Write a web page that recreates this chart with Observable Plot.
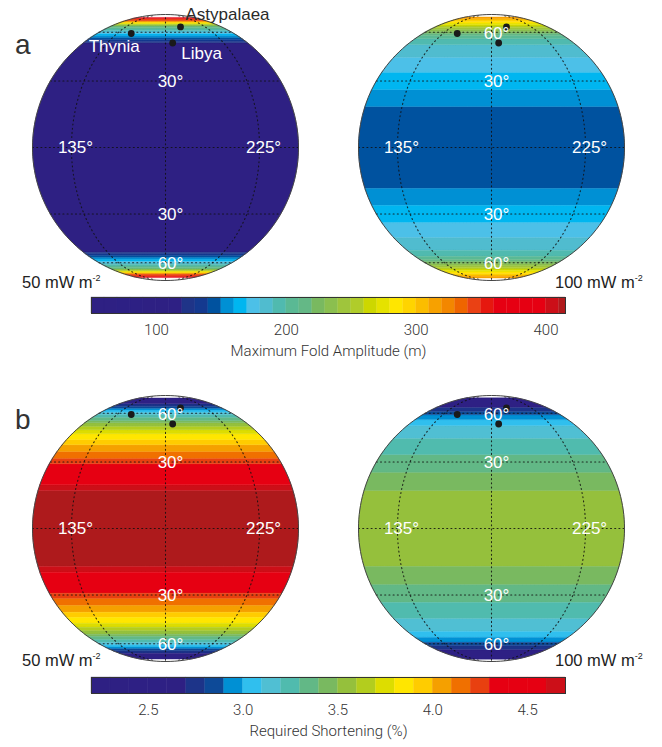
<!DOCTYPE html>
<html>
<head>
<meta charset="utf-8">
<script src="https://cdn.jsdelivr.net/npm/d3@7"></script>
<script src="https://cdn.jsdelivr.net/npm/@observablehq/plot@0.6"></script>
<style>
html,body{margin:0;padding:0;background:#fff;}
#page{position:relative;width:662px;height:747px;overflow:hidden;font-family:"Liberation Sans",sans-serif;}
#page>*{position:absolute;}
.tag{font-size:28px;color:#333;line-height:1;}
.flux{font-size:16.5px;color:#222;line-height:1;white-space:nowrap;}
.flux sup{font-size:9px;line-height:0;position:relative;top:-1px;vertical-align:super;}
</style>
</head>
<body>
<div id="page"></div>
<script>
// Stepped colour ramps of the two colour bars
const ampEdges = [60,70,80,90,100,110,120,130,140,150,160,170,180,190,200,210,220,230,240,250,260,270,280,290,300,310,320,330,340,350,360,370,380,390,400,410];
const ampColors = ["#2e2083","#2e2083","#2d2084","#2d2084","#2e2083","#2e2083","#2e2084","#1f3488","#14398f","#00529f","#0090d4","#00b6f0","#4cc0e8","#50bccf","#50baaf","#5ab994","#64b886","#79b960","#8bbf4f","#9fc53c","#b0cc2a","#cdd700","#e5e200","#ffe600","#ffd400","#fbbd00","#f7a100","#f38700","#ef6500","#ea4114","#e6180f","#e60012","#e60012","#e60012","#e60012","#cc0f18","#b01a1c"];
const shortEdges = [2.3,2.4,2.5,2.6,2.7,2.8,2.9,3.0,3.1,3.2,3.3,3.4,3.5,3.6,3.7,3.8,3.9,4.0,4.1,4.2,4.3,4.4,4.5,4.6,4.7];
const shortColors = ["#2e2083","#2e2083","#2e2084","#2e2084","#2e2083","#1d3489","#0d4a98","#0090d4","#30bfee","#50bfd3","#50bbae","#62b886","#79b960","#95c03c","#b3cd1e","#dddd00","#ffe600","#ffcc00","#f5a000","#f07000","#e84010","#e60012","#e60012","#e60012","#cc0f18","#ae1a1c"];

// Zonal bands: upper latitude of each band (mirrored in the south) and its value
const ampLats50 = [52,53,54.5,56,57.5,59,60,61.5,63,64.5,66,67.5,68.5,69.5,70.5,71.5,72.5,76,78];
const ampVals50 = [90,125,135,145,155,165,175,185,195,205,215,235,255,270,285,305,325,345,380];
const ampLats100 = [18,25.9,34.5,42.8,50.7,55,57.4,59.2,61,62.7,64.5,66,67.6,69.4,71.2,73.5,75.5,79];
const ampVals100 = [145,155,165,175,185,195,205,215,225,235,245,255,265,275,285,295,305,315];
const shortLats50 = [16.6,19.2,29.1,31.9,35.4,39,42,45.4,47.9,50.3,52.6,54.3,56.8,59,61,63.1,64.8,66.9,69.7,79];
const shortVals50 = [4.75,4.65,4.45,4.25,4.15,4.05,3.95,3.85,3.75,3.65,3.55,3.45,3.35,3.25,3.15,3.05,2.95,2.85,2.75,2.5];
const shortLats100 = [16.6,25,33.8,42.8,50.7,55,58.8,61.9,65.8,79.4];
const shortVals100 = [3.55,3.45,3.35,3.25,3.15,3.05,2.95,2.85,2.75,2.5];

// Named sites on the globe
const sites = [
  {name:"Thynia", lon:150, lat:59, dx:-17, dy:13, fill:"white"},
  {name:"Libya", lon:185, lat:51.8, dx:29, dy:11, fill:"white"},
  {name:"Astypalaea", lon:195.5, lat:65, dx:47, dy:-12, fill:"#2a2a2a"}
];
// Graticule labels
const lonLabels = [{lon:135, lat:0, text:"135°"},{lon:225, lat:0, text:"225°"}];
const parallels = [-60,-30,0,30,60];
const meridians = [135,180,225];

const range = (a,b,s) => d3.range(a,b+s/2,s);
function band(lo, hi){
  const north = range(85,275,2).map(l=>[l,hi]);
  const south = range(85,275,2).reverse().map(l=>[l,lo]);
  const ring = [...north,...south,north[0]];
  return {type:"Polygon",coordinates:[ring]};
}
function bands(lats, vals){
  const out=[{geometry:band(-lats[0],lats[0]),value:vals[0]}];
  for(let i=1;i<lats.length;i++){
    out.push({geometry:band(lats[i-1],lats[i]),value:vals[i]});
    out.push({geometry:band(-lats[i],-lats[i-1]),value:vals[i]});
  }
  return out;
}
const graticule = [
  ...parallels.map(lat=>({type:"LineString",coordinates:range(85,275,2).map(l=>[l,lat])})),
  ...meridians.map(lon=>({type:"LineString",coordinates:range(-82,82,2).map(lat=>[lon,lat])}))
];

function globe(lats, vals, edges, colors, opts={}){
  const data = bands(lats, vals);
  const latLabels = opts.latLabels;
  return Plot.plot({
    width:270,height:270,margin:0,
    style:{overflow:"visible",background:"transparent",fontFamily:"Liberation Sans, sans-serif"},
    projection:{type:"orthographic",rotate:[-180,0],domain:{type:"Sphere"},inset:2},
    color:{type:"threshold",domain:edges,range:colors},
    marks:[
      Plot.geo(data,{geometry:"geometry",fill:"value",stroke:"value",strokeWidth:0.4}),
      Plot.geo(graticule,{stroke:"#111",strokeWidth:1.1,strokeDasharray:"1 3.2",strokeOpacity:0.85}),
      Plot.sphere({stroke:"#444",strokeWidth:1}),
      Plot.dot(sites,{x:"lon",y:"lat",r:3.4,fill:"#1a1a1a",stroke:null}),
      Plot.text(lonLabels,{x:"lon",y:"lat",text:"text",dx:4,fill:"white",fontSize:17}),
      Plot.text(latLabels,{x:"lon",y:"lat",text:"text",dx:5,dy:1,fill:"white",fontSize:17}),
      opts.names ? Plot.text(sites,{x:"lon",y:"lat",text:"name",dx:"dx",dy:"dy",fill:"fill",fontSize:17}) : null
    ]
  });
}
const mkLat = arr => arr.map(lat=>({lon:180,lat,text:Math.abs(lat)+"°"}));
// dx/dy channel support: draw names individually
function siteNames(){ return sites.map(s=>Plot.text([s],{x:"lon",y:"lat",text:"name",dx:s.dx,dy:s.dy,fill:s.fill,fontSize:17})); }

function globeFull(lats, vals, edges, colors, latList, names){
  const data = bands(lats, vals);
  return Plot.plot({
    width:270,height:270,margin:0,
    style:{overflow:"visible",background:"transparent",fontFamily:"Liberation Sans, sans-serif"},
    projection:{type:"orthographic",rotate:[-180,0],domain:{type:"Sphere"},inset:2},
    color:{type:"threshold",domain:edges,range:colors},
    marks:[
      Plot.geo(data,{geometry:"geometry",fill:"value",stroke:"value",strokeWidth:0.4}),
      Plot.geo(graticule,{stroke:"#111",strokeWidth:1.1,strokeDasharray:"1 3.2",strokeOpacity:0.85}),
      Plot.sphere({stroke:"#444",strokeWidth:1}),
      Plot.dot(sites,{x:"lon",y:"lat",r:3.4,fill:"#1a1a1a"}),
      Plot.text(lonLabels,{x:"lon",y:"lat",text:"text",dx:4,fill:"white",fontSize:17}),
      Plot.text(mkLat(latList),{x:"lon",y:"lat",text:"text",dx:5,dy:1,fill:"white",fontSize:17}),
      ...(names?siteNames():[])
    ]
  });
}

function colorBar(edges, colors, domain, ticks, fmt, label){
  const bounds=[domain[0],...edges.filter(e=>e<domain[1]),domain[1]];
  const cells=bounds.slice(1).map((hi,i)=>({lo:bounds[i],hi,mid:(bounds[i]+hi)/2}));
  return Plot.plot({
    width:662,height:82,marginLeft:91,marginRight:97,marginTop:4,marginBottom:62,
    style:{overflow:"visible",background:"transparent",fontFamily:"Roboto, sans-serif"},
    x:{domain},
    color:{type:"threshold",domain:edges,range:colors},
    marks:[
      Plot.rect(cells,{x1:"lo",x2:"hi",fill:"mid",stroke:"mid",strokeWidth:0.3}),
      Plot.frame({stroke:"#333",strokeWidth:1}),
      Plot.axisX({ticks,tickSize:0,tickPadding:11,tickFormat:fmt,label:null,fontSize:15,fill:"#333",fontWeight:300}),
      Plot.text([label],{frameAnchor:"bottom",dy:42,fontSize:15,fill:"#333",fontWeight:300})
    ]
  });
}

const page=document.getElementById("page");
function place(el,left,top){el.style.position="absolute";el.style.left=left+"px";el.style.top=top+"px";page.appendChild(el);}
function note(cls,html,left,top){const d=document.createElement("div");d.className=cls;d.innerHTML=html;place(d,left,top);}

place(globeFull(ampLats50,ampVals50,ampEdges,ampColors,[30,-30,-60],true),30,12);
place(globeFull(ampLats100,ampVals100,ampEdges,ampColors,[60,30,-30,-60],false),356,12);
place(globeFull(shortLats50,shortVals50,shortEdges,shortColors,[60,30,-30,-60],false),30,393);
place(globeFull(shortLats100,shortVals100,shortEdges,shortColors,[60,30,-30,-60],false),356,393);

place(colorBar(ampEdges,ampColors,[50,415],[100,200,300,400],d3.format("d"),"Maximum Fold Amplitude (m)"),0,292.5);
place(colorBar(shortEdges,shortColors,[2.2,4.7],[2.5,3,3.5,4,4.5],d3.format(".1f"),"Required Shortening (%)"),0,673);

note("tag","a",15,31);
note("tag","b",15,406);
note("flux","50 mW m<sup>-2</sup>",22,274);
note("flux","100 mW m<sup>-2</sup>",555,274);
note("flux","50 mW m<sup>-2</sup>",22,652);
note("flux","100 mW m<sup>-2</sup>",555,652);
</script>
</body>
</html>
